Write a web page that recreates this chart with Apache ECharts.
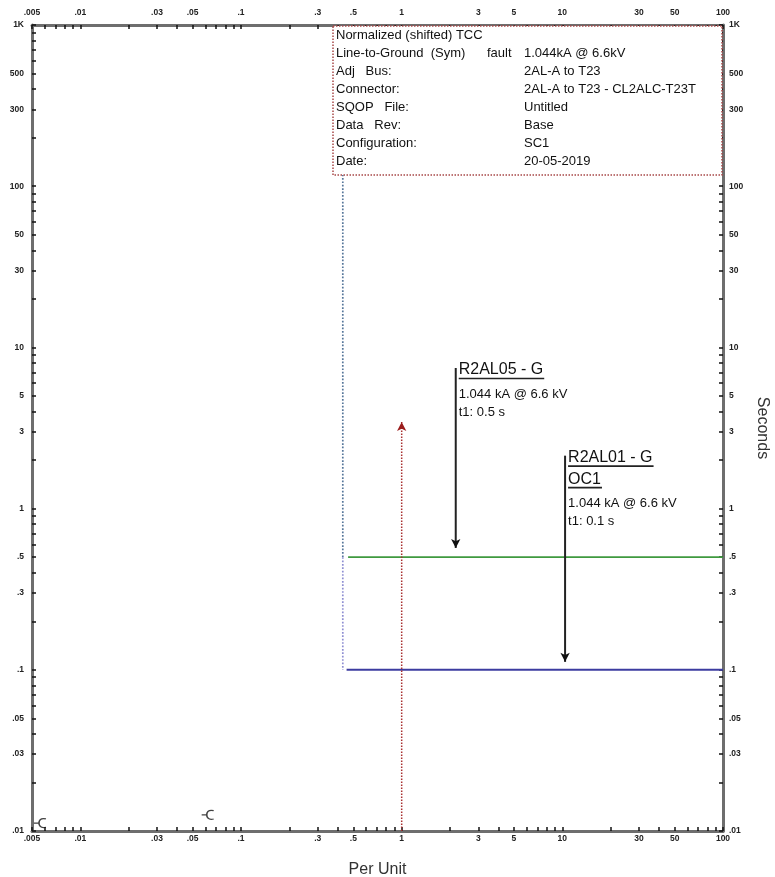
<!DOCTYPE html>
<html><head><meta charset="utf-8">
<script src="https://cdn.jsdelivr.net/npm/echarts@6/dist/echarts.min.js"></script>
<style>html,body{margin:0;padding:0;background:#fff}#c{width:775px;height:877px}</style>
</head><body><div id="c"></div>
<script>
const FONT = '"Liberation Sans", Arial, sans-serif';

// Axis labels
const xLabelValues = [0.005, 0.01, 0.03, 0.05, 0.1, 0.3, 0.5, 1, 3, 5, 10, 30, 50, 100];
const xLabelTexts  = ['.005', '.01', '.03', '.05', '.1', '.3', '.5', '1', '3', '5', '10', '30', '50', '100'];
const yLabelValues = [1000, 500, 300, 100, 50, 30, 10, 5, 3, 1, 0.5, 0.3, 0.1, 0.05, 0.03, 0.01];
const yLabelTexts  = ['1K', '500', '300', '100', '50', '30', '10', '5', '3', '1', '.5', '.3', '.1', '.05', '.03', '.01'];
const tickMantissas = [1, 2, 3, 4, 5, 6, 7, 8, 9];
const xDecades = [0.001, 0.01, 0.1, 1, 10, 100];
const yDecades = [0.01, 0.1, 1, 10, 100, 1000];

// Curves
const r2al05PickupX = [0.43, 0.43];
const r2al05PickupY = [1000, 0.5];
const r2al05DefX = [0.464, 100];
const r2al05DefY = [0.5, 0.5];
const r2al01PickupX = [0.43, 0.43];
const r2al01PickupY = [0.5, 0.1];
const r2al01DefX = [0.454, 100];
const r2al01DefY = [0.1, 0.1];

// Fault marker (1.044 kA)
const faultX = [1, 1];
const faultY = [0.01, 3.45];

// Label leaders
const leaderX = [2.17, 10.4];
const leaderTop = [7.45, 2.13];
const leaderEnd = [0.57, 0.112];
const leaderTitles = [['R2AL05 - G'], ['R2AL01 - G', 'OC1']];
const leaderNotes = [['1.044 kA @ 6.6 kV', 't1: 0.5 s'], ['1.044 kA @ 6.6 kV', 't1: 0.1 s']];

// Connector symbols
const symX = [0.0056, 0.062];
const symY = [0.0112, 0.0126];

// Info box
const infoLeft = ['Normalized (shifted) TCC', 'Line-to-Ground  (Sym)', 'Adj   Bus:', 'Connector:', 'SQOP   File:', 'Data   Rev:', 'Configuration:', 'Date:'];
const infoRight = ['', '1.044kA @ 6.6kV', '2AL-A to T23', '2AL-A to T23 - CL2ALC-T23T', 'Untitled', 'Base', 'SC1', '20-05-2019'];

function ticksFor(decades, lo, hi) {
  const out = [];
  decades.forEach(d => tickMantissas.forEach(m => {
    const v = +(m * d).toPrecision(6);
    if (v >= lo * 0.999 && v <= hi * 1.001) out.push(v);
  }));
  return out;
}
const xTickValues = ticksFor(xDecades, 0.005, 100);
const yTickValues = ticksFor(yDecades, 0.01, 1000);

function labelFor(values, texts) {
  return function (v) {
    let best = 0, bd = Infinity;
    values.forEach((u, i) => { const d = Math.abs(Math.log10(u) - Math.log10(v)); if (d < bd) { bd = d; best = i; } });
    return bd < 0.01 ? texts[best] : '';
  };
}
const pts = (xs, ys) => xs.map((x, i) => [x, ys[i]]);

const axisLineStyle = { show: true, onZero: false, lineStyle: { color: '#6e6e6e', width: 3 } };
const tickStyle = (vals) => ({ show: true, inside: true, length: 4, customValues: vals, lineStyle: { color: '#111', width: 1.5 } });
const labStyle = (vals, texts, margin) => ({
  show: true, customValues: vals, formatter: labelFor(vals, texts), showMinLabel: true, showMaxLabel: true,
  fontSize: 8.5, fontWeight: 'bold', color: '#222', fontFamily: FONT, margin: margin
});

function xAx(pos, margin, extra) {
  return Object.assign({
    type: 'log', logBase: 10, min: 0.005, max: 100, position: pos,
    axisLine: axisLineStyle, axisTick: tickStyle(xTickValues),
    axisLabel: labStyle(xLabelValues, xLabelTexts, margin),
    splitLine: { show: false }, minorTick: { show: false }, minorSplitLine: { show: false }
  }, extra || {});
}
function yAx(pos, margin, extra) {
  return Object.assign({
    type: 'log', logBase: 10, min: 0.01, max: 1000, position: pos,
    axisLine: axisLineStyle, axisTick: tickStyle(yTickValues),
    axisLabel: labStyle(yLabelValues, yLabelTexts, margin),
    splitLine: { show: false }, minorTick: { show: false }, minorSplitLine: { show: false }
  }, extra || {});
}

const chart = echarts.init(document.getElementById('c'), null, { renderer: 'canvas' });

const arrowEnd = (x, y, color, rot) => ({ value: [x, y], symbol: 'arrow', symbolSize: [7, 9], symbolRotate: rot, itemStyle: { color: color } });

const series = [
  { type: 'line', name: 'R2AL05 pickup', data: pts(r2al05PickupX, r2al05PickupY), symbol: 'none',
    lineStyle: { type: 'dotted', color: '#56769a', width: 1.7 }, z: 3 },
  { type: 'line', name: 'R2AL01 pickup', data: pts(r2al01PickupX, r2al01PickupY), symbol: 'none',
    lineStyle: { type: 'dotted', color: '#8e8ed2', width: 1.7 }, z: 3 },
  { type: 'line', name: 'R2AL05 - G', data: pts(r2al05DefX, r2al05DefY), symbol: 'none',
    lineStyle: { color: '#3f9a3f', width: 1.8 }, z: 4 },
  { type: 'line', name: 'R2AL01 - G', data: pts(r2al01DefX, r2al01DefY), symbol: 'none',
    lineStyle: { color: '#3c3ca0', width: 2 }, z: 4 },
  { type: 'line', name: 'Fault', symbol: 'none', showSymbol: true,
    data: [{ value: [faultX[0], faultY[0]], symbol: 'none' }, arrowEnd(faultX[1], faultY[1], '#9a1c1c', 0)],
    lineStyle: { type: 'dotted', color: '#a83030', width: 1.5 }, z: 5 },
  { type: 'scatter', name: 'Connectors', data: pts(symX, symY), symbolSize: [12, 9],
    symbol: 'path://M0,4 L3.5,4 M9.5,1 C5,0 4,2.5 4,4 C4,5.5 5,8 9.5,7',
    itemStyle: { color: 'none', borderColor: '#111', borderWidth: 1.4 }, z: 6 }
];
leaderX.forEach((x, i) => {
  series.push({ type: 'line', name: 'leader' + i, symbol: 'none', showSymbol: true,
    data: [{ value: [x, leaderTop[i]], symbol: 'none' }, arrowEnd(x, leaderEnd[i], '#111', 180)],
    lineStyle: { color: '#222', width: 2 }, z: 7 });
});

chart.setOption({
  animation: false,
  backgroundColor: '#ffffff',
  textStyle: { fontFamily: FONT },
  grid: { left: 32, right: 52, top: 25, bottom: 46, containLabel: false, outerBoundsMode: 'none' },
  xAxis: [
    xAx('bottom', 3, { name: 'Per Unit', nameLocation: 'middle', nameGap: 31,
      nameTextStyle: { fontSize: 16, color: '#333', fontFamily: FONT } }),
    xAx('top', 8)
  ],
  yAxis: [
    yAx('left', 8),
    yAx('right', 6, { name: 'Seconds', nameLocation: 'middle', nameGap: 31, nameRotate: -90,
      nameTextStyle: { fontSize: 16, color: '#333', fontFamily: FONT } })
  ],
  series: series
});

// Annotations
const mctx = document.createElement('canvas').getContext('2d');
function tw(text, size) { mctx.font = size + 'px ' + FONT; return mctx.measureText(text).width; }

const g = [];
const boxL = 333, boxT = 26, boxR = 722, boxB = 175;
g.push({ type: 'rect', shape: { x: boxL, y: boxT, width: boxR - boxL, height: boxB - boxT }, z: 100,
  style: { fill: '#fff', stroke: '#a84848', lineWidth: 1.5, lineDash: [1.5, 1.5] } });
infoLeft.forEach((t, i) => {
  const y = 35 + 18 * i;
  g.push({ type: 'text', x: 336, y: y, z: 101, style: { text: t, font: '13px ' + FONT, fill: '#111', verticalAlign: 'middle' } });
  if (infoRight[i]) g.push({ type: 'text', x: 524, y: y, z: 101, style: { text: infoRight[i], font: '13px ' + FONT, fill: '#111', verticalAlign: 'middle' } });
});
g.push({ type: 'text', x: 487, y: 53, z: 101, style: { text: 'fault', font: '13px ' + FONT, fill: '#111', verticalAlign: 'middle' } });

leaderX.forEach((x, i) => {
  const p = chart.convertToPixel({ xAxisIndex: 0, yAxisIndex: 0 }, [x, leaderTop[i]]);
  const tx = p[0] + 3;
  let cy = p[1] + 2;
  leaderTitles[i].forEach((t, k) => {
    if (k > 0) cy += 21.5;
    g.push({ type: 'text', x: tx, y: cy, z: 50, style: { text: t, font: '16px ' + FONT, fill: '#111', verticalAlign: 'middle' } });
    const w = tw(t, 16);
    g.push({ type: 'line', z: 50, shape: { x1: tx, y1: cy + 8.5, x2: tx + w + 1, y2: cy + 8.5 }, style: { stroke: '#222', lineWidth: 1.6 } });
  });
  cy += 24;
  leaderNotes[i].forEach((t, k) => {
    if (k > 0) cy += 18;
    g.push({ type: 'text', x: tx, y: cy, z: 50, style: { text: t, font: '13px ' + FONT, fill: '#111', verticalAlign: 'middle' } });
  });
});
chart.setOption({ graphic: g });
</script></body></html>
